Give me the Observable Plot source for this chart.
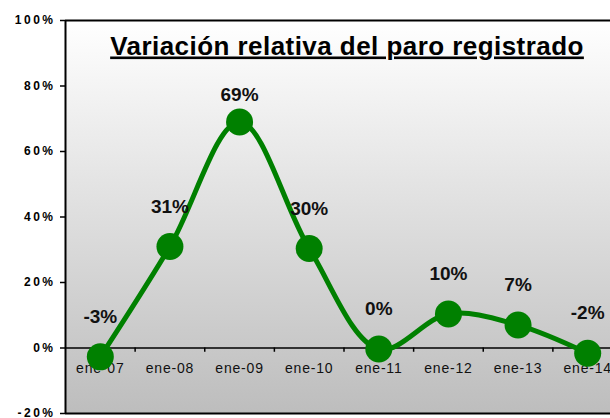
<!DOCTYPE html>
<html>
<head>
<meta charset="utf-8">
<script src="https://cdn.jsdelivr.net/npm/d3@7"></script>
<script src="https://cdn.jsdelivr.net/npm/@observablehq/plot@0.6"></script>
<style>
  html, body { margin: 0; padding: 0; background: #fff; }
  #chart svg { display: block; font-family: "Liberation Sans", Arial, sans-serif; }
  #chart g[aria-label="y-axis tick label"] text { letter-spacing: 2.5px; }
  #chart g.xcat text { letter-spacing: 0.8px; }
  #chart g.title text { letter-spacing: 0.45px; text-decoration: underline; }
</style>
</head>
<body>
<div id="chart"></div>
<script>
// ---- data ----
const title = "Variación relativa del paro registrado";
const categories = ["ene-07", "ene-08", "ene-09", "ene-10", "ene-11", "ene-12", "ene-13", "ene-14"];
const values = [-2.7, 31, 69, 30.4, -0.3, 10.4, 7, -1.6];
const labels = ["-3%", "31%", "69%", "30%", "0%", "10%", "7%", "-2%"];
const yTicks = [-20, 0, 20, 40, 60, 80, 100];

const data = categories.map((c, i) => ({i, cat: c, v: values[i], label: labels[i]}));
const boundaries = categories.slice(1).map((_, i) => i + 0.5);
const peak = d3.max(values);

const green = "#008000";

const chart = Plot.plot({
  width: 610,
  height: 418,
  marginLeft: 65,
  marginTop: 20,
  marginBottom: 5,
  marginRight: 0,
  style: {fontFamily: "Liberation Sans, Arial, sans-serif", background: "transparent"},
  x: {type: "linear", domain: [-0.5, categories.length - 0.5], range: [65, 622], axis: null},
  y: {domain: [-20, 100], axis: null},
  marks: [
    Plot.frame({fill: "url(#bgGrad)", stroke: null}),
    Plot.axisY({ticks: yTicks, tickFormat: d => d + "%", tickSize: 5, tickPadding: 5, label: null,
      fontSize: 12, fontWeight: "bold", stroke: "black", strokeWidth: 1.5, fill: "#000"}),
    Plot.ruleY([yTicks[0], yTicks[yTicks.length - 1]], {stroke: "black", strokeWidth: 2}),
    Plot.ruleX([-0.5], {stroke: "black", strokeWidth: 2}),
    Plot.ruleY([0], {stroke: "black", strokeWidth: 1.5}),
    Plot.ruleX(boundaries, {y1: 0, y2: -1.3, stroke: "black", strokeWidth: 1.5}),
    Plot.text(data, {x: "i", y: 0, text: "cat", dy: 21, fontSize: 14, fill: "#111", className: "xcat"}),
    Plot.line(data, {x: "i", y: "v", curve: "catmull-rom", stroke: green, strokeWidth: 5}),
    Plot.dot(data, {x: "i", y: "v", r: 13.5, fill: green, stroke: null}),
    Plot.text(data.filter(d => d.v !== peak), {x: "i", y: "v", text: "label", dy: -40,
      fontSize: 19, fontWeight: "bold", fill: "#111"}),
    Plot.text(data.filter(d => d.v === peak), {x: "i", y: "v", text: "label", dy: -27,
      fontSize: 19, fontWeight: "bold", fill: "#111"}),
    Plot.text([title], {frameAnchor: "top", lineAnchor: "bottom", dy: 34, dx: 9,
      fontSize: 26, fontWeight: "bold", fill: "#000", className: "title"})
  ]
});

// gradient definition for the plot background
const svg = d3.select(chart.tagName === "svg" ? chart : chart.querySelector("svg"));
const defs = svg.insert("defs", ":first-child");
const grad = defs.append("linearGradient").attr("id", "bgGrad")
  .attr("x1", 0).attr("y1", 0).attr("x2", 0).attr("y2", 1);
grad.append("stop").attr("offset", "0%").attr("stop-color", "#ffffff");
grad.append("stop").attr("offset", "100%").attr("stop-color", "#bdbdbd");

document.getElementById("chart").appendChild(chart);
</script>
</body>
</html>
